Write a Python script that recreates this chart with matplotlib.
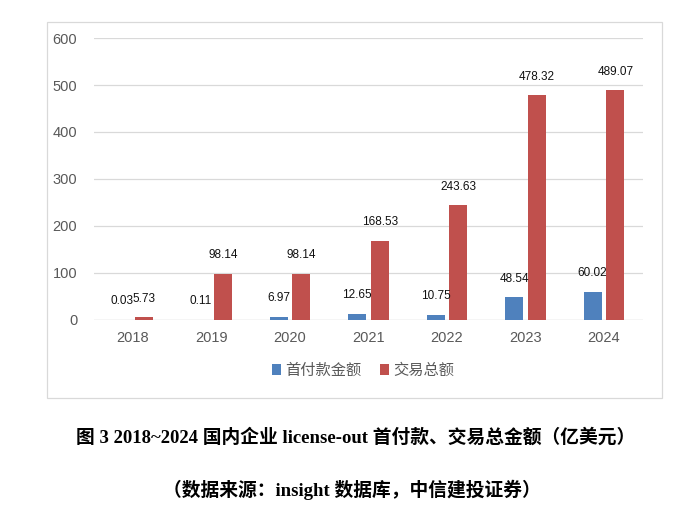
import matplotlib
matplotlib.use("Agg")
import matplotlib.pyplot as plt
from matplotlib.patches import Rectangle
import numpy as np

plt.rcParams['font.family'] = ['Liberation Sans', 'Noto Sans CJK SC', 'DejaVu Sans']

years = ['2018', '2019', '2020', '2021', '2022', '2023', '2024']
upfront = [0.03, 0.11, 6.97, 12.65, 10.75, 48.54, 60.02]
total = [5.73, 98.14, 98.14, 168.53, 243.63, 478.32, 489.07]
upfront_labels = ['0.03', '0.11', '6.97', '12.65', '10.75', '48.54', '60.02']
total_labels = ['5.73', '98.14', '98.14', '168.53', '243.63', '478.32', '489.07']
series_names = ['首付款金额', '交易总额']
title = '图 3 2018~2024 国内企业 license-out 首付款、交易总金额（亿美元）'
source = '（数据来源：insight 数据库，中信建投证券）'

blue = '#4F81BD'
red = '#C0504D'

fig = plt.figure(figsize=(7.0, 5.21), dpi=100)
ax = fig.add_axes([0.134, 0.386, 0.785, 0.541])

x = np.arange(len(years))
w = 0.23
off = 0.145
ax.bar(x - off, upfront, w, color=blue, label=series_names[0], zorder=3)
ax.bar(x + off, total, w, color=red, label=series_names[1], zorder=3)

for xi, v, s in zip(x, upfront, upfront_labels):
    ax.annotate(s, (xi - off, v), xytext=(0, 9), textcoords='offset points',
                ha='center', va='bottom', fontsize=8.5, color='#111111')
for xi, v, s in zip(x, total, total_labels):
    ax.annotate(s, (xi + off, v), xytext=(0, 9), textcoords='offset points',
                ha='center', va='bottom', fontsize=8.5, color='#111111')

ax.set_ylim(0, 600)
ax.set_xlim(-0.5, len(years) - 0.5)
ax.set_yticks(range(0, 601, 100))
ax.set_xticks(x)
ax.set_xticklabels(years)
ax.tick_params(axis='both', length=0, labelsize=10.5, colors='#595959')
ax.tick_params(axis='y', pad=12)
ax.tick_params(axis='x', pad=8)
ax.yaxis.grid(True, color='#D9D9D9', linewidth=0.9, zorder=0)
for sp in ax.spines.values():
    sp.set_visible(False)
ax.axhline(0, color='#D9D9D9', linewidth=0.9, zorder=2)

leg = ax.legend(loc='upper center', bbox_to_anchor=(0.49, -0.105), ncol=2,
                frameon=False, fontsize=11, handlelength=0.6, handleheight=0.7,
                columnspacing=1.2, handletextpad=0.3)
for t in leg.get_texts():
    t.set_color('#595959')

# chart border
fig.patches.append(Rectangle((47/700, 1-398/521), (662-47)/700, (398-22)/521,
                             transform=fig.transFigure, fill=False,
                             edgecolor='#D9D9D9', linewidth=0.9))

fig.text(0.508, 1-437/521, title, ha='center', va='center', fontsize=13.5,
         fontweight='bold', family=['Liberation Serif', 'Noto Sans CJK SC'])
fig.text(0.503, 1-490/521, source, ha='center', va='center', fontsize=13.5,
         fontweight='bold', family=['Liberation Serif', 'Noto Sans CJK SC'])

fig.savefig('out.png', dpi=100, facecolor='white')
